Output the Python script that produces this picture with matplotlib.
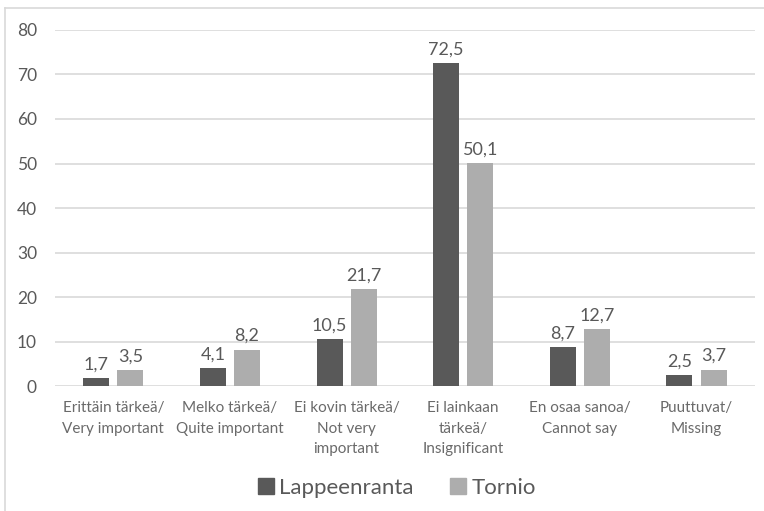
import matplotlib
matplotlib.use("Agg")
import matplotlib.pyplot as plt
from matplotlib.lines import Line2D
import numpy as np

categories = ["Erittäin tärkeä/\nVery important", "Melko tärkeä/\nQuite important",
              "Ei kovin tärkeä/\nNot very\nimportant", "Ei lainkaan\ntärkeä/\nInsignificant",
              "En osaa sanoa/\nCannot say", "Puuttuvat/\nMissing"]
lappeenranta = [1.7, 4.1, 10.5, 72.5, 8.7, 2.5]
tornio = [3.5, 8.2, 21.7, 50.1, 12.7, 3.7]
series_names = ["Lappeenranta", "Tornio"]

plt.rcParams['font.family'] = ['Lato', 'DejaVu Sans']
txt = "#595959"
dark = "#595959"
light = "#adadad"

fig = plt.figure(figsize=(7.64, 5.11), dpi=100)
ax = fig.add_axes([0.072, 0.2446, 0.916, 0.6967])

x = np.arange(len(categories))
w = 0.223
off = 0.146
b1 = ax.bar(x - off, lappeenranta, w, color=dark, label=series_names[0], zorder=3)
b2 = ax.bar(x + off, tornio, w, color=light, label=series_names[1], zorder=3)

def fmt(v):
    return ("%.1f" % v).replace(".", ",")

for bars, vals in ((b1, lappeenranta), (b2, tornio)):
    for r, v in zip(bars, vals):
        ax.annotate(fmt(v), (r.get_x() + r.get_width() / 2, v), xytext=(0, 4),
                    textcoords="offset points", ha="center", va="bottom",
                    fontsize=13, color=txt)

ax.set_xlim(-0.5, len(categories) - 0.5)
ax.set_ylim(0, 80)
ax.set_yticks(range(0, 81, 10))
ax.grid(axis="y", color="#d9d9d9", linewidth=1.2, zorder=0)
for s in ax.spines.values():
    s.set_visible(False)
ax.tick_params(axis="both", length=0, colors=txt, labelsize=12.5)
ax.tick_params(axis="y", pad=13)
ax.set_xticks(x)
ax.set_xticklabels(categories, fontsize=11, color="#6a6a6a", linespacing=1.6)
ax.tick_params(axis="x", pad=11)

handles = [Line2D([], [], marker="s", linestyle="", markersize=11, color=dark),
           Line2D([], [], marker="s", linestyle="", markersize=11, color=light)]
fig.legend(handles, series_names, loc="center", bbox_to_anchor=(0.517, 0.045), ncol=2,
           frameon=False, fontsize=16, labelcolor=txt, handletextpad=0.1,
           columnspacing=1.5, handlelength=1.0)

# light frame at left and top
fig.add_artist(Line2D([5 / 764, 5 / 764], [0, 1 - 8 / 511], color="#d9d9d9", lw=1.2,
                      transform=fig.transFigure))
fig.add_artist(Line2D([5 / 764, 1], [1 - 8 / 511, 1 - 8 / 511], color="#d9d9d9", lw=1.2,
                      transform=fig.transFigure))

fig.savefig("out.png", dpi=100)
